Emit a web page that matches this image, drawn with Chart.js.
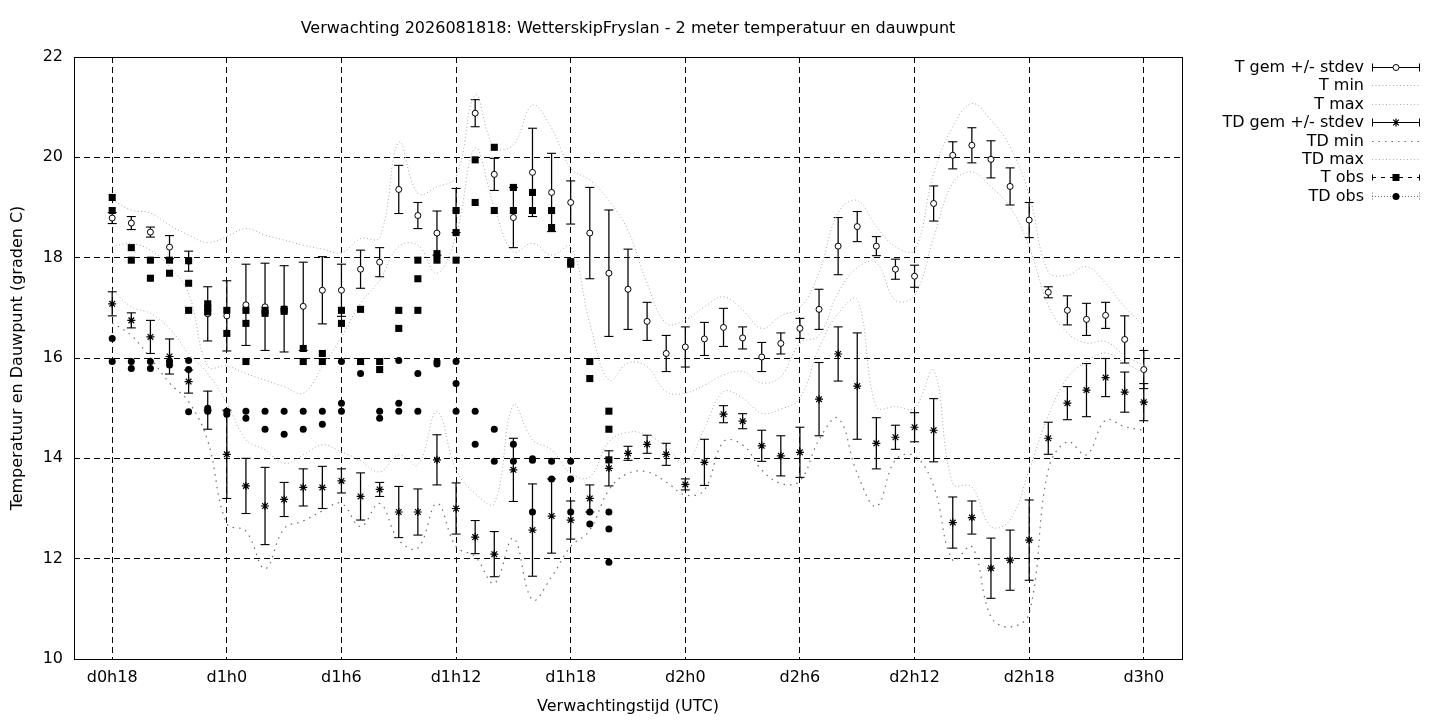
<!DOCTYPE html>
<html>
<head>
<meta charset="utf-8">
<script src="https://cdn.jsdelivr.net/npm/chart.js"></script>
<style>
html,body{margin:0;padding:0;background:#fff;}
#wrap{width:1440px;height:720px;position:relative;}
</style>
</head>
<body>
<div id="wrap"><canvas id="c" width="1440" height="720"></canvas></div>
<script>
// ---- data (hours after d0h18) ----
const hours = [0,1,2,3,4,5,6,7,8,9,10,11,12,13,14,15,16,17,18,19,20,21,22,23,24,25,26,27,28,29,30,31,32,33,34,35,36,37,38,39,40,41,42,43,44,45,46,47,48,49,50,51,52,53,54];
const tickHours = [0,6,12,18,24,30,36,42,48,54];
const tickLabels = ['d0h18','d1h0','d1h6','d1h12','d1h18','d2h0','d2h6','d2h12','d2h18','d3h0'];

const tGem = [18.79,18.69,18.51,18.21,17.93,16.88,16.84,17.06,17.02,16.98,
              17.03,17.35,17.35,17.77,17.91,19.36,18.84,18.49,18.94,20.88,
              19.66,18.80,19.70,19.30,19.10,18.49,17.69,17.37,16.73,16.09,
              16.22,16.38,16.61,16.40,16.02,16.29,16.59,16.97,18.23,18.62,
              18.23,17.77,17.63,19.08,20.04,20.24,19.96,19.42,18.75,17.31,
              16.95,16.77,16.85,16.37,15.77];
const tSd = [0.11,0.13,0.10,0.23,0.20,0.54,0.70,0.81,0.87,0.86,
             0.88,0.67,0.52,0.38,0.29,0.48,0.26,0.44,0.44,0.27,
             0.32,0.60,0.88,0.78,0.43,0.91,1.26,0.80,0.38,0.36,
             0.40,0.33,0.38,0.22,0.29,0.21,0.20,0.40,0.57,0.30,
             0.19,0.20,0.22,0.35,0.27,0.35,0.37,0.37,0.35,0.11,
             0.29,0.32,0.26,0.47,0.38];
const tMin = [18.22,18.28,18.15,17.82,17.29,15.83,15.84,15.69,15.56,15.43,
              15.30,15.83,16.42,17.09,17.55,18.22,18.25,17.69,18.45,20.18,
              19.00,18.12,18.29,18.05,18.22,16.69,15.56,15.90,15.83,15.33,
              15.30,15.46,15.66,15.73,15.50,15.63,16.29,16.45,17.30,17.80,
              17.90,17.15,17.25,18.40,19.49,19.71,19.41,19.01,18.22,17.05,
              16.50,16.30,16.33,16.05,15.85];
const tMax = [19.15,18.95,18.89,18.65,18.45,18.30,18.42,18.58,18.45,18.35,
              18.25,18.17,18.10,18.38,18.40,20.30,19.28,19.41,19.61,21.24,
              20.20,20.25,21.04,20.58,19.78,19.55,19.14,18.54,17.49,16.69,
              16.76,17.02,17.22,16.96,16.59,16.84,17.00,17.70,18.90,19.14,
              18.62,18.22,18.15,19.68,20.61,21.07,20.74,20.21,19.25,17.72,
              17.65,17.82,17.49,17.02,16.65];

const tdGem = [17.08,16.75,16.42,16.03,15.53,14.96,14.08,13.45,13.05,13.18,
               13.42,13.42,13.55,13.24,13.38,12.93,12.93,13.97,13.00,12.43,
               12.09,13.77,12.57,12.85,12.77,13.20,13.80,14.10,14.28,14.08,
               13.48,13.92,14.88,14.74,14.25,14.05,14.12,15.18,16.08,15.44,
               14.30,14.42,14.62,14.56,12.72,12.82,11.81,11.97,12.37,14.40,
               15.10,15.36,15.61,15.32,15.12];
const tdSd = [0.24,0.15,0.33,0.35,0.23,0.38,0.88,0.55,0.77,0.34,
              0.37,0.42,0.24,0.47,0.14,0.51,0.46,0.50,0.51,0.33,
              0.45,0.63,0.92,0.74,0.38,0.27,0.35,0.14,0.18,0.22,
              0.11,0.46,0.17,0.15,0.31,0.40,0.50,0.73,0.54,1.06,
              0.51,0.24,0.29,0.63,0.51,0.33,0.60,0.60,0.80,0.32,
              0.33,0.53,0.38,0.40,0.37];
const tdMin = [16.70,16.45,16.00,15.50,15.13,14.35,12.70,12.55,11.80,12.60,
               12.75,12.95,13.10,12.64,13.10,12.37,12.21,13.10,12.24,12.04,
               11.51,12.41,11.18,11.64,12.24,12.57,13.37,13.70,13.73,13.53,
               13.27,13.37,14.33,14.27,13.77,13.50,13.55,14.37,14.80,13.70,
               13.04,13.97,14.05,13.45,11.97,12.24,10.84,10.64,10.91,13.77,
               14.33,14.07,14.76,14.63,14.56];
const tdMax = [17.36,17.02,16.89,16.59,16.09,15.69,15.10,14.37,14.17,13.90,
               14.07,14.27,14.13,13.95,13.73,14.07,13.87,14.93,13.77,13.30,
               13.10,15.06,14.37,14.17,13.70,13.63,14.33,14.52,14.47,14.23,
               13.90,14.60,15.33,15.20,14.90,14.98,15.20,16.20,16.89,17.16,
               15.03,15.03,15.00,15.76,13.50,13.43,12.64,12.77,13.77,14.85,
               15.60,15.93,16.10,15.90,15.70];

// observations per hour (index = hour 0..26)
const tObs = [[19.20,18.94],[18.20,17.95],[17.95,17.59],[17.95,17.69],[17.94,17.49,16.95],
              [17.08,17.00,16.92],[16.95,16.49],[16.95,16.69,15.93],[16.95,16.89],[16.97,16.93],
              [16.19,15.93],[16.09,15.93],[16.95,16.69],[16.97,15.93],[15.93,15.77],
              [16.95,16.59],[17.95,17.58,16.95],[18.08,17.95],[18.94,18.50,17.95],[19.95,19.10],
              [20.20,18.94],[19.40,18.94],[19.30,18.94],[18.94,18.60],[17.92,17.87],
              [15.93,15.59],[14.94,14.58,13.97]];
const tdObs = [[16.39,15.93],[15.93,15.79],[15.93,15.79],[15.93,15.86],[15.95,15.77,14.93],
               [15.00,14.94],[14.94,14.88],[14.94,14.80],[14.94,14.58],[14.94,14.48],
               [14.94,14.58],[14.94,14.68],[15.93,15.10,14.94],[15.69],[14.94,14.80],
               [15.95,15.10,14.94],[15.69,14.94],[15.93,15.88],[15.93,15.49,14.94],[14.94,14.28],
               [14.58,13.94],[14.28,13.94],[13.99,13.96,12.93],[13.94,13.59],[13.94,13.59,12.93],
               [12.93,12.69],[12.93,12.59,11.93]];

const legendLabels = ['T gem +/- stdev','T min','T max','TD gem +/- stdev','TD min','TD max','T obs','TD obs'];
const legendKinds  = ['errT','dense','dense','errTD','sparse','dense','tobs','tdobs'];
const titleText = 'Verwachting 2026081818: WetterskipFryslan - 2 meter temperatuur en dauwpunt';

// ---- helpers building library datasets from the arrays ----
const series = (v) => hours.map((h, i) => ({x: h, y: v[i]}));
const errBars = (m, s) => {
  const out = [];
  hours.forEach((h, i) => {
    out.push({x: h, y: m[i] - s[i]}, {x: h, y: m[i] + s[i]}, {x: h, y: null});
  });
  return out;
};
const obsPoints = (o) => {
  const out = [];
  o.forEach((vals, i) => vals.forEach(v => out.push({x: hours[i], y: v})));
  return out;
};

const DENSE = '#a8a8a8';
const SPARSE = '#6e6e6e';

Chart.defaults.font.family = "'DejaVu Sans', sans-serif";
Chart.defaults.font.size = 16;
Chart.defaults.color = '#000';

const framePlugin = {
  id: 'frame',
  afterDatasetsDraw(chart) {
    const {ctx, chartArea: a} = chart;
    ctx.save();
    ctx.strokeStyle = '#000';
    ctx.lineWidth = 1;
    ctx.setLineDash([]);
    ctx.strokeRect(Math.round(a.left) + 0.5, Math.round(a.top) + 0.5,
                   Math.round(a.right - a.left), Math.round(a.bottom - a.top));
    ctx.restore();
  }
};

function drawStar(ctx, x, y, r) {
  const d = r * Math.SQRT1_2;
  ctx.beginPath();
  ctx.moveTo(x - r, y); ctx.lineTo(x + r, y);
  ctx.moveTo(x, y - r); ctx.lineTo(x, y + r);
  ctx.moveTo(x - d, y - d); ctx.lineTo(x + d, y + d);
  ctx.moveTo(x - d, y + d); ctx.lineTo(x + d, y - d);
  ctx.stroke();
}

function drawSample(ctx, kind, x0, x1, y) {
  const xm = (x0 + x1) / 2;
  ctx.save();
  ctx.lineWidth = 1;
  if (kind === 'errT' || kind === 'errTD') {
    ctx.strokeStyle = '#000';
    ctx.setLineDash([]);
    ctx.beginPath();
    ctx.moveTo(x0, y); ctx.lineTo(x1, y);
    ctx.moveTo(x0 + 0.5, y - 4); ctx.lineTo(x0 + 0.5, y + 4);
    ctx.moveTo(x1 - 0.5, y - 4); ctx.lineTo(x1 - 0.5, y + 4);
    ctx.stroke();
    if (kind === 'errT') {
      ctx.fillStyle = '#fff';
      ctx.beginPath(); ctx.arc(xm, y, 3, 0, 2 * Math.PI); ctx.fill(); ctx.stroke();
    } else {
      ctx.lineWidth = 1.2;
      drawStar(ctx, xm, y, 4);
    }
  } else if (kind === 'dense' || kind === 'sparse') {
    ctx.strokeStyle = kind === 'dense' ? DENSE : SPARSE;
    ctx.setLineDash(kind === 'dense' ? [1, 2.5] : [1.5, 5]);
    ctx.beginPath(); ctx.moveTo(x0, y); ctx.lineTo(x1, y); ctx.stroke();
  } else if (kind === 'tobs') {
    ctx.strokeStyle = '#000';
    ctx.setLineDash([4, 5]);
    ctx.beginPath(); ctx.moveTo(x0, y); ctx.lineTo(x1, y); ctx.stroke();
    ctx.setLineDash([]);
    ctx.beginPath();
    ctx.moveTo(x0 + 0.5, y - 3); ctx.lineTo(x0 + 0.5, y + 3);
    ctx.moveTo(x1 - 0.5, y - 3); ctx.lineTo(x1 - 0.5, y + 3);
    ctx.stroke();
    ctx.fillStyle = '#000';
    ctx.fillRect(xm - 3.5, y - 3.5, 7, 7);
  } else if (kind === 'tdobs') {
    ctx.strokeStyle = SPARSE;
    ctx.setLineDash([1, 2]);
    ctx.beginPath();
    ctx.moveTo(x0, y); ctx.lineTo(x1, y);
    ctx.moveTo(x0 + 0.5, y - 4); ctx.lineTo(x0 + 0.5, y + 4);
    ctx.moveTo(x1 - 0.5, y - 4); ctx.lineTo(x1 - 0.5, y + 4);
    ctx.stroke();
    ctx.fillStyle = '#000';
    ctx.beginPath(); ctx.arc(xm, y, 3.5, 0, 2 * Math.PI); ctx.fill();
  }
  ctx.restore();
}

const legendPlugin = {
  id: 'gnuLegend',
  afterDraw(chart) {
    const {ctx, chartArea: a} = chart;
    const xText = a.right + 182;
    const x0 = a.right + 190, x1 = a.right + 238;
    ctx.save();
    ctx.font = "16px 'DejaVu Sans', sans-serif";
    ctx.textAlign = 'right';
    ctx.textBaseline = 'middle';
    ctx.fillStyle = '#000';
    legendLabels.forEach((lab, i) => {
      const y = Math.round(a.top + 10 + i * 18.4) + 0.5;
      ctx.fillText(lab, xText, y);
      drawSample(ctx, legendKinds[i], x0, x1, y);
    });
    ctx.restore();
  }
};

const gridOpts = {color: '#000', lineWidth: 1, drawTicks: false};
const borderOpts = {display: false, dash: [6, 4]};

new Chart(document.getElementById('c'), {
  type: 'scatter',
  data: {
    datasets: [
      {type: 'scatter', label: 'TD obs', data: obsPoints(tdObs), pointStyle: 'circle', pointRadius: 3.5,
       pointBackgroundColor: '#000', pointBorderColor: '#000', pointBorderWidth: 0, order: 1},
      {type: 'scatter', label: 'T obs', data: obsPoints(tObs), pointStyle: 'rect', pointRadius: 5,
       pointBackgroundColor: '#000', pointBorderColor: '#000', pointBorderWidth: 0, order: 2},
      {type: 'line', label: 'TD max', data: series(tdMax), borderColor: DENSE, borderWidth: 1,
       borderDash: [1, 2.5], pointRadius: 0, tension: 0.4, fill: false, order: 3},
      {type: 'line', label: 'TD min', data: series(tdMin), borderColor: SPARSE, borderWidth: 1.2,
       borderDash: [1.5, 5], pointRadius: 0, tension: 0.4, fill: false, order: 4},
      {type: 'scatter', label: 'TD gem', data: series(tdGem), pointStyle: 'star', pointRadius: 4,
       pointBorderColor: '#000', pointBackgroundColor: '#000', pointBorderWidth: 1.2, order: 5},
      {type: 'line', label: 'TD stdev', data: errBars(tdGem, tdSd), borderColor: '#000', borderWidth: 1.25,
       pointStyle: 'line', pointRadius: 4.5, pointBorderColor: '#000', pointBorderWidth: 1.1,
       spanGaps: false, tension: 0, fill: false, order: 6},
      {type: 'line', label: 'T max', data: series(tMax), borderColor: DENSE, borderWidth: 1,
       borderDash: [1, 2.5], pointRadius: 0, tension: 0.4, fill: false, order: 7},
      {type: 'line', label: 'T min', data: series(tMin), borderColor: DENSE, borderWidth: 1,
       borderDash: [1, 2.5], pointRadius: 0, tension: 0.4, fill: false, order: 8},
      {type: 'scatter', label: 'T gem', data: series(tGem), pointStyle: 'circle', pointRadius: 3,
       pointBackgroundColor: '#fff', pointBorderColor: '#000', pointBorderWidth: 1, order: 9},
      {type: 'line', label: 'T stdev', data: errBars(tGem, tSd), borderColor: '#000', borderWidth: 1.25,
       pointStyle: 'line', pointRadius: 4.5, pointBorderColor: '#000', pointBorderWidth: 1.1,
       spanGaps: false, tension: 0, fill: false, order: 10}
    ]
  },
  options: {
    responsive: false,
    animation: false,
    events: [],
    layout: {padding: {left: 0, right: 258, top: 0, bottom: 0}},
    plugins: {
      legend: {display: false},
      tooltip: {enabled: false},
      title: {display: true, text: titleText, fullSize: false, color: '#000',
              font: {size: 16, weight: 'normal'}, padding: {top: 19.4, bottom: 18.4}}
    },
    scales: {
      x: {
        type: 'linear', min: -2, max: 56,
        afterBuildTicks: (s) => { s.ticks = tickHours.map(v => ({value: v})); },
        afterFit: (s) => { s.height = 61; },
        ticks: {autoSkip: false, maxRotation: 0, minRotation: 0, padding: 9.4, color: '#000',
                callback: (v) => { const i = tickHours.indexOf(v); return i >= 0 ? tickLabels[i] : ''; }},
        grid: gridOpts,
        border: borderOpts,
        title: {display: true, text: 'Verwachtingstijd (UTC)', color: '#000',
                font: {size: 16}, padding: {top: 0, bottom: 3.4}}
      },
      y: {
        type: 'linear', min: 10, max: 22,
        afterFit: (s) => { s.width = 74; },
        ticks: {stepSize: 2, padding: 11, color: '#000'},
        grid: gridOpts,
        border: borderOpts,
        title: {display: true, text: 'Temperatuur en Dauwpunt (graden C)', color: '#000',
                font: {size: 16}, padding: {top: 8.4, bottom: 0}}
      }
    }
  },
  plugins: [framePlugin, legendPlugin]
});
</script>
</body>
</html>
